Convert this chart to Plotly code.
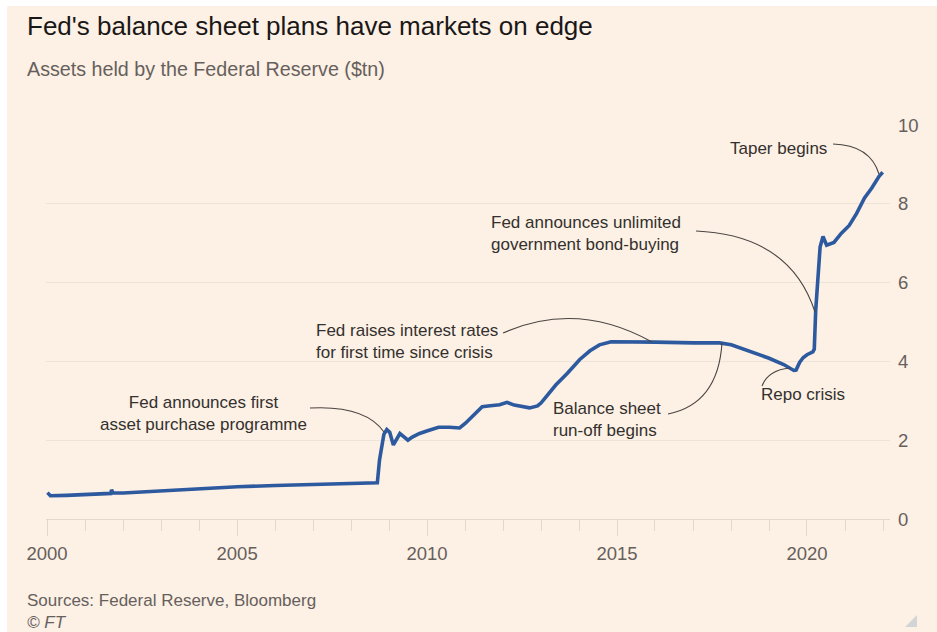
import plotly.graph_objects as go

# ---------------- data ----------------
dates = [
    "2000-01-05", "2000-02-02", "2000-07-05", "2001-01-03", "2001-07-04", "2001-09-05",
    "2001-09-12", "2001-09-26", "2002-01-02", "2002-07-03", "2003-01-01", "2003-07-02",
    "2004-01-07", "2005-01-05", "2006-01-04", "2007-01-03", "2008-01-02", "2008-09-10",
    "2008-10-01", "2008-10-22", "2008-11-12", "2008-12-10", "2009-01-07", "2009-02-11",
    "2009-03-18", "2009-04-15", "2009-05-27", "2009-07-01", "2009-08-12", "2009-10-21",
    "2010-01-06", "2010-04-21", "2010-08-04", "2010-11-10", "2011-01-05", "2011-03-16",
    "2011-06-15", "2011-08-10", "2011-11-30", "2012-02-08", "2012-04-18", "2012-09-12",
    "2012-11-28", "2013-01-02", "2013-05-22", "2013-09-11", "2014-01-08", "2014-04-16",
    "2014-07-16", "2014-11-05", "2015-01-07", "2016-01-06", "2017-01-04", "2017-09-13",
    "2018-01-03", "2018-07-04", "2019-01-02", "2019-05-22", "2019-08-28", "2019-09-18",
    "2019-10-23", "2019-11-27", "2020-01-01", "2020-02-26", "2020-03-11", "2020-03-25",
    "2020-04-15", "2020-05-06", "2020-06-03", "2020-07-08", "2020-09-16", "2020-11-25",
    "2021-02-10", "2021-04-21", "2021-07-07", "2021-09-15", "2021-11-24", "2021-12-29",
]
assets = [
    0.67, 0.59, 0.60, 0.62, 0.64, 0.65,
    0.74, 0.66, 0.66, 0.69, 0.72, 0.74,
    0.77, 0.82, 0.85, 0.88, 0.91, 0.92,
    1.50, 1.90, 2.15, 2.27, 2.20, 1.88,
    2.02, 2.17, 2.08, 2.00, 2.08, 2.17,
    2.24, 2.33, 2.33, 2.31, 2.43, 2.62,
    2.85, 2.87, 2.90, 2.96, 2.89, 2.82,
    2.87, 2.95, 3.40, 3.70, 4.05, 4.27,
    4.42, 4.50, 4.50, 4.49, 4.47, 4.47,
    4.42, 4.26, 4.08, 3.92, 3.77, 3.78,
    3.98, 4.10, 4.17, 4.24, 4.31, 5.30,
    6.30, 6.90, 7.17, 6.95, 7.02, 7.25,
    7.45, 7.75, 8.15, 8.40, 8.70, 8.80,
]

year_ticks = [2000, 2005, 2010, 2015, 2020]
value_ticks = [0, 2, 4, 6, 8, 10]

title = "Fed's balance sheet plans have markets on edge"
subtitle = "Assets held by the Federal Reserve ($tn)"
source = "Sources: Federal Reserve, Bloomberg"
credit = "© FT"

notes = [
    "Fed announces first<br>asset purchase programme",
    "Fed raises interest rates<br>for first time since crisis",
    "Balance sheet<br>run-off begins",
    "Fed announces unlimited<br>government bond-buying",
    "Repo crisis",
    "Taper begins",
]

# ---------------- layout helpers ----------------
W, H = 937, 632
L, R, T, B = 46, 47, 125, 113
PW, PH = W - L - R, H - T - B

def px(x):
    return (x - L) / PW

def py(y):
    return (H - B - y) / PH

BG = "#FDF0E5"
INK = "#33302E"
GREY = "#66605C"
FONT = "Liberation Sans, Arial, sans-serif"

fig = go.Figure()
fig.add_trace(go.Scatter(
    x=dates, y=assets, mode="lines",
    line=dict(color="#2D5A9F", width=3.6),
    hoverinfo="skip", showlegend=False,
))

shapes = []
# page background (white strip on left and top edges)
shapes.append(dict(type="rect", xref="paper", yref="paper",
                   x0=px(7), x1=px(W + 5), y0=py(H + 5), y1=py(6),
                   fillcolor=BG, line=dict(width=0), layer="below"))
# resize glyph at bottom right
shapes.append(dict(type="path", xref="paper", yref="paper",
                   path=f"M {px(905)} {py(627)} L {px(917)} {py(627)} L {px(917)} {py(615)} Z",
                   fillcolor="#D3D4D6", line=dict(width=0)))

def curve(p0, c, p1):
    return dict(type="path", xref="paper", yref="paper",
                path=(f"M {px(p0[0])} {py(p0[1])} Q {px(c[0])} {py(c[1])} "
                      f"{px(p1[0])} {py(p1[1])}"),
                line=dict(color="#4A4542", width=1.1))

shapes += [
    curve((310, 408), (365, 405), (384, 432)),
    curve((503, 333), (577, 300), (652, 342)),
    curve((668, 414), (718, 404), (722, 343)),
    curve((696, 231), (790, 235), (815, 312)),
    curve((762, 386), (768, 370), (790, 368)),
    curve((833, 144), (870, 145), (879, 174)),
]

ann = []
def text(t, x, y, size, color, xanchor="left", align="left", italic=False):
    ann.append(dict(text=(f"<i>{t}</i>" if italic else t), xref="paper", yref="paper",
                    x=px(x), y=py(y), xanchor=xanchor, yanchor="middle",
                    align=align, showarrow=False,
                    font=dict(family=FONT, size=size, color=color)))

text(title, 25, 26, 26, "#1A1817")
text(subtitle, 25, 69, 19.7, GREY)
text(source, 25, 600, 17, GREY)
text(credit, 25, 622, 17, GREY, italic=True)

text(notes[0], 203, 413, 17, INK, xanchor="center", align="center")
text(notes[1], 314, 341, 17, INK)
text(notes[2], 551, 419, 17, INK)
text(notes[3], 489, 233, 17, INK)
text(notes[4], 759, 394, 17, INK)
text(notes[5], 728, 148, 17, INK)

# y-axis value labels, placed just right of the plot area
for v in value_ticks:
    ann.append(dict(text=str(v), xref="paper", yref="y", x=px(896), y=v,
                    xanchor="left", yanchor="middle", showarrow=False,
                    font=dict(family=FONT, size=18.5, color=GREY)))

fig.update_layout(
    width=W, height=H,
    margin=dict(l=L, r=R, t=T, b=B, pad=0),
    paper_bgcolor="#FFFFFF",
    plot_bgcolor="rgba(0,0,0,0)",
    shapes=shapes, annotations=ann,
    font=dict(family=FONT, color=GREY),
    xaxis=dict(
        type="date", range=["1999-12-22", "2022-03-09"],
        tickvals=[f"{y}-01-01" for y in year_ticks],
        ticktext=[str(y) for y in year_ticks],
        ticks="outside", ticklen=16, tickwidth=1, tickcolor="#E2D8CE",
        minor=dict(dtick="M12", tick0="2000-01-01", ticks="outside",
                   ticklen=11, tickwidth=1, tickcolor="#E2D8CE", showgrid=False),
        showline=True, linecolor="#E2D8CE", linewidth=1.2,
        showgrid=False, zeroline=False,
        tickfont=dict(family=FONT, size=18.5, color=GREY),
        ticklabelstandoff=2,
        fixedrange=True,
    ),
    yaxis=dict(
        side="right", range=[0, 10],
        tickvals=value_ticks,
        showticklabels=False,
        showgrid=True, gridcolor="#EEE3D8", gridwidth=1,
        zeroline=False, showline=False, ticks="",
        fixedrange=True,
    ),
)

fig.write_html("out.html", config={"displayModeBar": False})
